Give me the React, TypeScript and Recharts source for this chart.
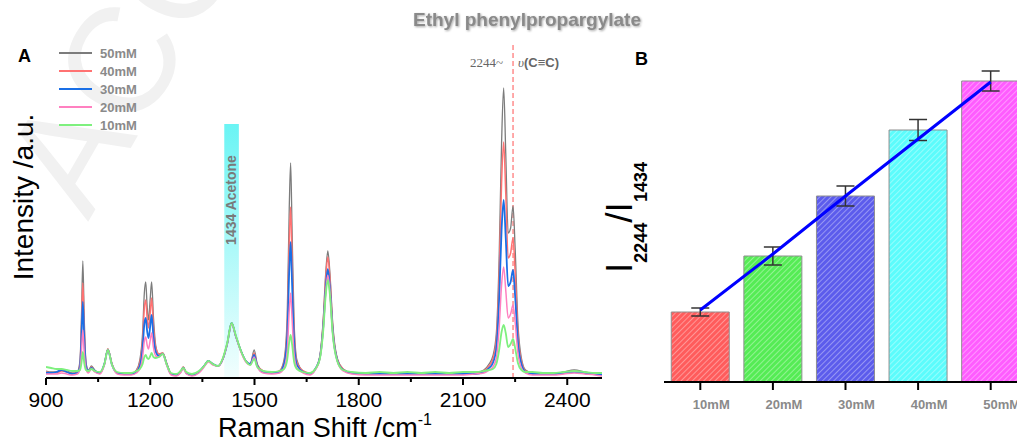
import React from "react";
import {
  LineChart,
  Line,
  XAxis,
  YAxis,
  ReferenceArea,
  ReferenceLine,
  ComposedChart,
  Bar,
  Cell,
  ErrorBar,
} from "recharts";

const SANS = "'Liberation Sans', Arial, sans-serif";
const SERIF = "'Liberation Serif', 'Times New Roman', serif";

// Raman shift (cm-1) sample positions
const shift = [
  900, 915, 930, 945, 960, 975, 990, 998, 1002, 1006, 1010, 1015, 1022, 1031, 1040, 1055, 1068, 1078, 1090, 1105,
  1125, 1145, 1160, 1170, 1178, 1183, 1187, 1191, 1195, 1200, 1204, 1209, 1216, 1225, 1236, 1248, 1260, 1275, 1287, 1295,
  1304, 1320, 1340, 1355, 1367, 1380, 1395, 1410, 1422, 1434, 1446, 1460, 1475, 1488, 1499, 1508, 1525, 1550, 1572, 1585,
  1594, 1600, 1604, 1608, 1614, 1622, 1640, 1660, 1675, 1688, 1698, 1705, 1711, 1717, 1725, 1738, 1755, 1780, 1820, 1860,
  1900, 1940, 1980, 2020, 2060, 2100, 2135, 2160, 2175, 2186, 2196, 2204, 2211, 2217, 2223, 2230, 2237, 2244, 2250, 2258,
  2268, 2280, 2300, 2330, 2360, 2390, 2420, 2450, 2480, 2500,
];

const int50 = [
  7, 6, 6, 8, 7, 5, 6, 18, 60, 117, 60, 16, 8, 12, 8, 5, 14, 29, 14, 5,
  4, 4, 8, 18, 45, 85, 96, 72, 58, 80, 96, 62, 32, 24, 25, 14, 4, 3, 6, 11,
  5, 3, 6, 12, 17, 14, 12, 20, 35, 55, 42, 28, 17, 14, 28, 14, 7, 5, 7, 18,
  60, 170, 215, 150, 55, 18, 7, 5, 9, 22, 60, 105, 127, 105, 55, 20, 9, 5, 4, 4,
  5, 4, 4, 5, 4, 4, 5, 8, 14, 22, 45, 120, 235, 290, 225, 145, 150, 172, 130, 55,
  20, 8, 5, 4, 4, 6, 8, 6, 4, 3,
];
const int40 = [
  6, 5, 5, 7, 6, 4, 5, 15, 50, 95, 50, 14, 7, 11, 7, 5, 14, 29, 14, 5,
  4, 4, 7, 15, 38, 70, 78, 60, 50, 66, 80, 52, 30, 24, 25, 14, 4, 3, 6, 11,
  5, 3, 6, 12, 17, 14, 12, 20, 35, 55, 42, 28, 17, 14, 25, 13, 7, 5, 7, 16,
  50, 135, 171, 120, 45, 16, 7, 5, 9, 21, 57, 100, 121, 100, 52, 19, 9, 5, 4, 4,
  4, 4, 4, 4, 4, 4, 5, 7, 12, 19, 38, 100, 195, 236, 185, 120, 125, 140, 106, 45,
  17, 7, 5, 4, 4, 5, 7, 5, 4, 3,
];
const int30 = [
  5, 5, 6, 8, 6, 4, 5, 12, 40, 76, 40, 12, 7, 10, 7, 5, 14, 28, 13, 5,
  4, 4, 6, 12, 30, 54, 60, 47, 40, 52, 63, 42, 26, 22, 24, 13, 4, 3, 6, 10,
  5, 3, 6, 12, 17, 14, 12, 20, 35, 55, 42, 28, 17, 14, 23, 12, 6, 5, 6, 14,
  40, 108, 136, 96, 36, 13, 6, 4, 9, 20, 52, 90, 109, 90, 47, 18, 8, 5, 4, 4,
  4, 4, 4, 4, 4, 4, 4, 6, 10, 15, 30, 78, 148, 178, 140, 92, 96, 108, 82, 36,
  14, 6, 4, 4, 4, 5, 6, 5, 4, 3,
];
const int20 = [
  4, 4, 4, 5, 4, 3, 4, 9, 26, 48, 26, 9, 5, 9, 6, 4, 13, 28, 13, 4,
  3, 3, 5, 9, 21, 37, 41, 33, 29, 38, 45, 31, 22, 21, 24, 12, 3, 2, 5, 9,
  4, 2, 5, 11, 16, 13, 12, 20, 35, 54, 42, 27, 16, 13, 21, 11, 5, 4, 5, 10,
  26, 68, 85, 60, 24, 10, 5, 3, 8, 19, 50, 86, 103, 86, 45, 17, 7, 4, 3, 3,
  3, 3, 3, 3, 3, 3, 4, 5, 8, 11, 20, 50, 93, 111, 88, 60, 64, 73, 56, 25,
  10, 5, 3, 3, 3, 4, 5, 4, 3, 2,
];
const int10 = [
  11, 10, 9, 9, 8, 7, 7, 8, 15, 26, 15, 8, 7, 9, 7, 6, 14, 28, 13, 6,
  5, 5, 7, 9, 14, 21, 23, 20, 19, 22, 25, 21, 20, 21, 24, 13, 5, 4, 7, 10,
  6, 4, 7, 12, 17, 14, 12, 21, 36, 55, 43, 28, 17, 13, 19, 11, 7, 6, 7, 9,
  18, 36, 43, 34, 16, 9, 6, 5, 9, 19, 48, 83, 98, 83, 44, 17, 8, 6, 5, 6,
  5, 6, 5, 6, 5, 6, 6, 7, 8, 9, 14, 28, 46, 53, 45, 31, 34, 39, 30, 15,
  8, 6, 6, 5, 5, 6, 7, 6, 5, 5,
];

const shiftTicks = [900, 1050, 1200, 1350, 1500, 1650, 1800, 1950, 2100, 2250, 2400];
const majorTicks = [900, 1200, 1500, 1800, 2100, 2400];

// panel B
const concLabels = ["10mM", "20mM", "30mM", "40mM", "50mM"];
const ratioValues = [0.7, 1.26, 1.86, 2.52, 3.01];
const ratioErrors = [0.04, 0.09, 0.1, 0.105, 0.1];
const fitValues = [0.72, 1.28, 1.86, 2.43, 3.0];
const barColors = ["#ff5c5c", "#55ec55", "#5c5cec", "#5cfcfc", "#ff5cff"];

const series = [
  { key: "m50", name: "50mM", color: "#7c7c7c", width: 1.3, values: int50 },
  { key: "m40", name: "40mM", color: "#ff7272", width: 1.5, values: int40 },
  { key: "m30", name: "30mM", color: "#1a6fe6", width: 1.8, values: int30 },
  { key: "m20", name: "20mM", color: "#ff80c0", width: 1.5, values: int20 },
  { key: "m10", name: "10mM", color: "#7ef07e", width: 1.8, values: int10 },
];

const spectra = shift.map((s, i) => {
  const row: Record<string, number> = { shift: s };
  series.forEach((sr) => {
    row[sr.key] = sr.values[i];
  });
  return row;
});

const ratioData = concLabels.map((c, i) => ({
  conc: c,
  ratio: ratioValues[i],
  err: ratioErrors[i],
  fit: fitValues[i],
}));

function ShiftTick(props: any) {
  const { x, y, payload } = props;
  const major = majorTicks.includes(payload.value);
  return (
    <g>
      <line x1={x} x2={x} y1={y} y2={y + (major ? 7 : 4)} stroke="#000" strokeWidth={2} />
      {major && (
        <text x={x} y={y + 29} textAnchor="middle" fontSize={21} fontFamily={SANS} fill="#000">
          {payload.value}
        </text>
      )}
    </g>
  );
}

function ConcTick(props: any) {
  const { x, y, payload } = props;
  return (
    <g>
      <line x1={x} x2={x} y1={y} y2={y + 8} stroke="#000" strokeWidth={2} />
      <text x={x + 11} y={y + 27} textAnchor="middle" fontSize={13} fontWeight="bold" fontFamily={SANS} fill="#8a8a8a">
        {payload.value}
      </text>
    </g>
  );
}

export default function App() {
  return (
    <div
      style={{
        position: "absolute",
        left: 0,
        top: 0,
        width: 1017,
        height: 442,
        overflow: "hidden",
        background: "#fff",
        fontFamily: SANS,
      }}
    >
      {/* watermark */}
      <svg width={1017} height={442} style={{ position: "absolute", left: 0, top: 0 }}>
        <text transform="translate(88,222) rotate(-60)" fontSize={150} fontFamily={SANS} fill="#f1f1f1">
          ACC
        </text>
      </svg>

      <div style={{ position: "absolute", left: 0, top: 0 }}>
        <LineChart width={620} height={442} data={spectra} margin={{ top: 43, right: 18, bottom: 0, left: 46 }}>
          <defs>
            <linearGradient id="acetoneGrad" x1="0" y1="0" x2="0" y2="1">
              <stop offset="0%" stopColor="#6af4f4" />
              <stop offset="100%" stopColor="#f2fefe" />
            </linearGradient>
          </defs>
          <XAxis
            dataKey="shift"
            type="number"
            domain={[900, 2500]}
            ticks={shiftTicks}
            allowDataOverflow
            height={64}
            tickLine={false}
            tickSize={0}
            tickMargin={0}
            tick={<ShiftTick />}
            axisLine={{ stroke: "#000", strokeWidth: 2 }}
          />
          <XAxis
            xAxisId="top"
            orientation="top"
            dataKey="shift"
            type="number"
            domain={[900, 2500]}
            height={0}
            tick={false}
            tickLine={false}
            axisLine={{ stroke: "#000", strokeWidth: 2 }}
          />
          <YAxis
            type="number"
            domain={[0, 335]}
            width={0}
            tick={false}
            tickLine={false}
            axisLine={{ stroke: "#000", strokeWidth: 2 }}
          />
          <YAxis
            yAxisId="right"
            orientation="right"
            type="number"
            domain={[0, 335]}
            width={0}
            tick={false}
            tickLine={false}
            axisLine={{ stroke: "#000", strokeWidth: 2 }}
          />
          <ReferenceArea x1={1413} x2={1455} y1={0} y2={254} fill="url(#acetoneGrad)" fillOpacity={1} stroke="none" />
          <ReferenceLine x={2244} stroke="#ff8c8c" strokeWidth={1.5} strokeDasharray="5 3" />
          {series.map((s) => (
            <Line
              key={s.key}
              dataKey={s.key}
              name={s.name}
              type="monotone"
              stroke={s.color}
              strokeWidth={s.width}
              dot={false}
              isAnimationActive={false}
            />
          ))}
        </LineChart>
      </div>

      <div style={{ position: "absolute", left: 620, top: 0 }}>
        <ComposedChart
          width={407}
          height={442}
          data={ratioData}
          margin={{ top: 43, right: 0, bottom: 0, left: 44 }}
          barCategoryGap="10%"
        >
          <defs>
            {barColors.map((c, i) => (
              <pattern
                key={i}
                id={`hatch${i}`}
                patternUnits="userSpaceOnUse"
                width={4}
                height={4}
                patternTransform="rotate(45)"
              >
                <rect width={4} height={4} fill={c} />
                <line x1={0} y1={0} x2={0} y2={4} stroke="#ffffff" strokeWidth={1.3} strokeOpacity={0.55} />
              </pattern>
            ))}
          </defs>
          <XAxis
            dataKey="conc"
            height={60}
            tickLine={false}
            tickSize={0}
            tickMargin={0}
            tick={<ConcTick />}
            axisLine={{ stroke: "#000", strokeWidth: 2 }}
          />
          <XAxis
            xAxisId="top"
            orientation="top"
            dataKey="conc"
            height={0}
            tick={false}
            tickLine={false}
            axisLine={{ stroke: "#000", strokeWidth: 2 }}
          />
          <YAxis
            type="number"
            domain={[0, 3.39]}
            width={0}
            tick={false}
            tickLine={false}
            axisLine={{ stroke: "#000", strokeWidth: 2 }}
          />
          <Bar dataKey="ratio" stroke="#8f8f8f" strokeWidth={1} isAnimationActive={false}>
            {ratioData.map((d, i) => (
              <Cell key={d.conc} fill={`url(#hatch${i})`} />
            ))}
            <ErrorBar dataKey="err" width={9} stroke="#333" strokeWidth={1.5} direction="y" />
          </Bar>
          <Line dataKey="fit" type="linear" stroke="#0000ff" strokeWidth={3} dot={false} isAnimationActive={false} />
        </ComposedChart>
      </div>

      {/* annotations */}
      <svg width={1017} height={442} style={{ position: "absolute", left: 0, top: 0, pointerEvents: "none" }}>
        <text
          x={527}
          y={26}
          textAnchor="middle"
          fontSize={19}
          fontWeight="bold"
          fontFamily={SANS}
          fill="#8a8a8a"
          style={{ filter: "drop-shadow(1px 1px 1px rgba(0,0,0,0.35))" }}
        >
          Ethyl phenylpropargylate
        </text>
        <text x={18} y={62} fontSize={18} fontWeight="bold" fontFamily={SANS} fill="#000">
          A
        </text>
        <text x={635} y={65} fontSize={18} fontWeight="bold" fontFamily={SANS} fill="#000">
          B
        </text>

        {series.map((s, i) => (
          <g key={s.key}>
            <line x1={59} x2={92} y1={53 + i * 18} y2={53 + i * 18} stroke={s.color} strokeWidth={2} />
            <text x={100} y={58 + i * 18} fontSize={13} fontWeight="bold" fontFamily={SANS} fill="#8a8a8a">
              {s.name}
            </text>
          </g>
        ))}

        <text transform="translate(236,200) rotate(-90)" textAnchor="middle" fontSize={14} fontWeight="bold" fontFamily={SANS} fill="#7a7a7a">
          1434  Acetone
        </text>

        <text x={503} y={67} textAnchor="end" fontSize={13} fontFamily={SERIF} fill="#666">
          2244~
        </text>
        <text x={518} y={67} fontSize={13} fill="#666">
          <tspan fontFamily={SERIF} fontStyle="italic">υ</tspan>
          <tspan fontFamily={SANS} fontWeight="bold">(C≡C)</tspan>
        </text>

        <text transform="translate(33,197) rotate(-90)" textAnchor="middle" fontSize={28} fontFamily={SANS} fill="#000">
          Intensity /a.u.
        </text>
        <text x={325} y={437} textAnchor="middle" fontSize={27} fontFamily={SANS} fill="#000">
          Raman Shift /cm
          <tspan fontSize={16} dy={-12}>-1</tspan>
        </text>

        <text transform="translate(632,273) rotate(-90)" fontFamily={SANS} fill="#000">
          <tspan fontSize={37}>I</tspan>
          <tspan fontSize={18} fontWeight="bold" dy={15}>2244</tspan>
          <tspan fontSize={37} dy={-15}>/I</tspan>
          <tspan fontSize={18} fontWeight="bold" dy={15}>1434</tspan>
        </text>
      </svg>
    </div>
  );
}
